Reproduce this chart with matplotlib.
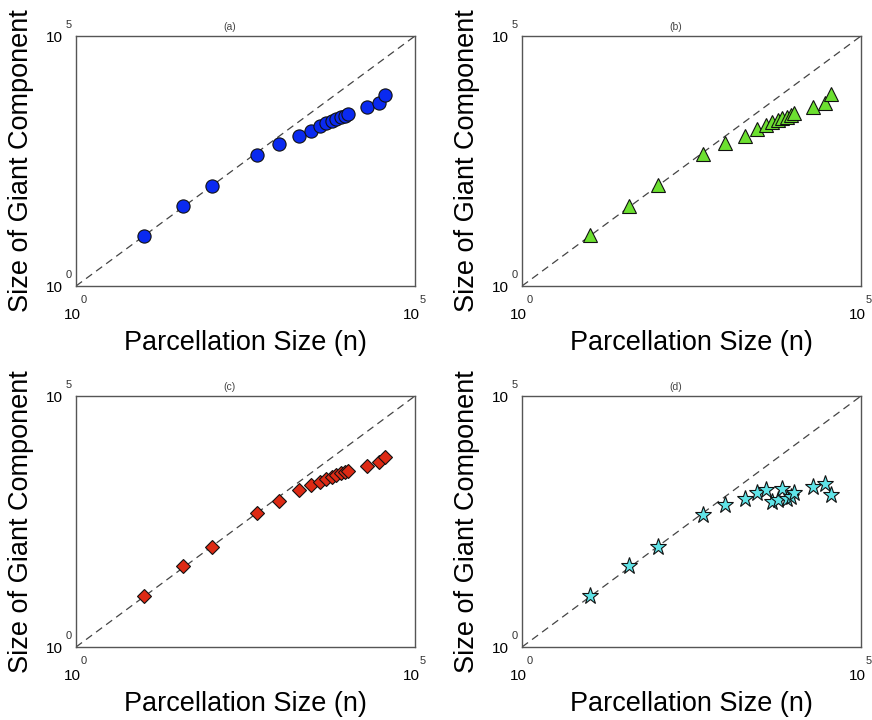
import matplotlib
matplotlib.use('Agg')
import matplotlib.pyplot as plt
import matplotlib.ticker as ticker

# fonte parecida com Helvetica
plt.rcParams['font.family'] = ['Liberation Sans', 'DejaVu Sans']

# tamanhos de parcelamento (eixo x), comum aos quatro paineis
parcel_sizes = [10, 38, 100, 475, 1000, 1970, 2930, 4010, 4930, 5890,
                6920, 8040, 9200, 10400, 19400, 29200, 36500]

# tamanho do componente gigante em cada painel
giant_a = [10, 40, 100, 423, 692, 985, 1277, 1585, 1793, 1965,
           2154, 2362, 2512, 2754, 3750, 4570, 6500]
giant_b = [10.5, 40.5, 105, 437, 713, 1016, 1358, 1660, 1936, 2089,
           2254, 2438, 2630, 2931, 3864, 4645, 6918]
giant_c = [10.4, 41, 99.5, 473, 809, 1318, 1687, 1963, 2223, 2399,
           2667, 2884, 3020, 3206, 4036, 4909, 6180]
giant_d = [10.4, 41, 99.5, 421, 675, 887, 1186, 1340, 762, 847,
           1384, 875, 986, 1153, 1517, 1766, 1067]

panel_titles = ['(a)', '(b)', '(c)', '(d)']
panel_data = [giant_a, giant_b, giant_c, giant_d]
diag_limits = [1, 1e5]

# ticks: valor e expoente mostrado
tick_vals = [1, 1e5]
tick_exps = ['0', '5']

# estilo de cada painel: marcador, cor, tamanho
styles = [('o', '#0A2AF0', 9.5),
          ('^', '#6CE030', 10.5),
          ('D', '#DD2A14', 7.0),
          ('*', '#60E4E8', 12.5)]

# posicao dos eixos em pixels (esquerda, topo, direita, base)
W, H = 872, 720
boxes = [(76, 36, 415, 286), (522, 36, 861, 286),
         (76, 396, 415, 647), (522, 396, 861, 647)]

fig = plt.figure(figsize=(W / 100, H / 100), dpi=100)

for i in range(4):
    l, t, r, b = boxes[i]
    ax = fig.add_axes([l / W, (H - b) / H, (r - l) / W, (b - t) / H])
    marker, color, ms = styles[i]

    # linha diagonal y = x
    ax.plot(diag_limits, diag_limits, linestyle=(0, (6, 4)), color='#444444',
            linewidth=0.9, zorder=1)
    ax.plot(parcel_sizes, panel_data[i], linestyle='none', marker=marker,
            markersize=ms, markerfacecolor=color, markeredgecolor='#111111',
            markeredgewidth=0.8, zorder=3)

    ax.set_xscale('log')
    ax.set_yscale('log')
    ax.set_xlim(1, 1e5)
    ax.set_ylim(1, 1e5)

    # sem marcas de tick; rotulos 10 com expoente escritos a mao
    ax.xaxis.set_major_locator(ticker.NullLocator())
    ax.yaxis.set_major_locator(ticker.NullLocator())
    ax.xaxis.set_minor_locator(ticker.NullLocator())
    ax.yaxis.set_minor_locator(ticker.NullLocator())

    for v, e in zip(tick_vals, tick_exps):
        # eixo x
        ax.annotate('10', xy=(v, 0), xycoords=('data', 'axes fraction'),
                    xytext=(-2.9, -21.1), textcoords='offset points',
                    ha='center', va='center', fontsize=11,
                    annotation_clip=False)
        ax.annotate(e, xy=(v, 0), xycoords=('data', 'axes fraction'),
                    xytext=(5.4, -10.3), textcoords='offset points',
                    ha='center', va='center', fontsize=8, color='#333333',
                    annotation_clip=False)
        # eixo y
        ax.annotate('10', xy=(0, v), xycoords=('axes fraction', 'data'),
                    xytext=(-15.5, -1.3), textcoords='offset points',
                    ha='center', va='center', fontsize=11,
                    annotation_clip=False)
        ax.annotate(e, xy=(0, v), xycoords=('axes fraction', 'data'),
                    xytext=(-5.4, 7.7), textcoords='offset points',
                    ha='center', va='center', fontsize=8, color='#333333',
                    annotation_clip=False)

    for s in ax.spines.values():
        s.set_color('#555555')
        s.set_linewidth(1.0)

    # titulo pequeno do painel
    ax.text(0.454, 1.016, panel_titles[i], transform=ax.transAxes,
            ha='center', va='bottom', fontsize=7.5, color='#444444')

    ax.set_xlabel('Parcellation Size (n)', fontsize=19.5)
    ax.set_ylabel('Size of Giant Component', fontsize=19.5)
    ax.xaxis.set_label_coords(0.5, -0.175)
    ax.yaxis.set_label_coords(-0.123, 0.5)

fig.savefig('out.png', dpi=100)
